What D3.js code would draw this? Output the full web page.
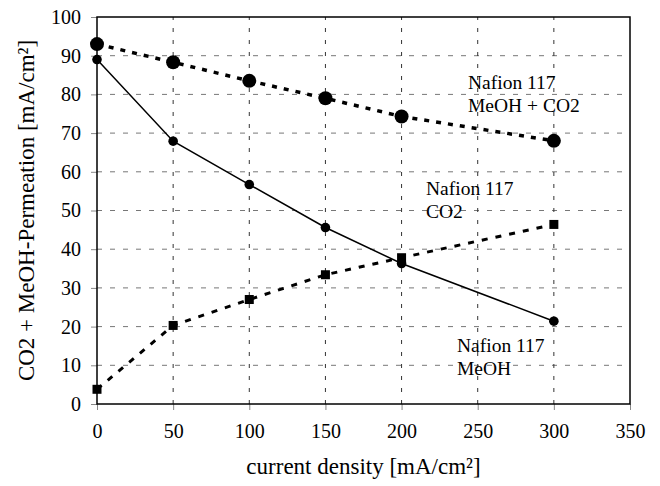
<!DOCTYPE html>
<html>
<head>
<meta charset="utf-8">
<script src="https://cdn.jsdelivr.net/npm/d3@7"></script>
<style>
  body { margin: 0; background: #fff; }
  text { font-family: "Liberation Serif", "Times New Roman", serif; fill: #000; }
</style>
</head>
<body>
<svg id="chart" width="660" height="486"></svg>
<script>
// current density values (x)
var density = [0, 50, 100, 150, 200, 300];
// series values
var meohCo2 = [93, 88.3, 83.5, 79, 74.3, 68];
var meoh = [89, 67.9, 56.7, 45.6, 36.3, 21.4];
var co2 = [3.8, 20.3, 27, 33.4, 37.8, 46.4];
// tick labels
var xTicks = [0, 50, 100, 150, 200, 250, 300, 350];
var yTicks = [0, 10, 20, 30, 40, 50, 60, 70, 80, 90, 100];

var svg = d3.select("#chart"),
  MARGINS = { top: 17, right: 30, bottom: 82, left: 97 },
  WIDTH = 660,
  HEIGHT = 486;

var xScale = d3.scaleLinear().domain([0, 350]).range([MARGINS.left, WIDTH - MARGINS.right]);
var yScale = d3.scaleLinear().domain([0, 100]).range([HEIGHT - MARGINS.bottom, MARGINS.top]);

// grid lines
svg.append("g").selectAll("line").data(yTicks.slice(1, -1)).enter().append("line")
  .attr("x1", xScale(0)).attr("x2", xScale(350))
  .attr("y1", function(d) { return yScale(d); }).attr("y2", function(d) { return yScale(d); })
  .attr("stroke", "#777").attr("stroke-width", 1).attr("stroke-dasharray", "5,8");

svg.append("g").selectAll("line").data(xTicks.slice(1, -1)).enter().append("line")
  .attr("x1", function(d) { return xScale(d); }).attr("x2", function(d) { return xScale(d); })
  .attr("y1", yScale(0)).attr("y2", yScale(100))
  .attr("stroke", "#333").attr("stroke-width", 1).attr("stroke-dasharray", "4,8");

// axes
var xAxis = d3.axisBottom(xScale).tickValues(xTicks).tickSize(6).tickPadding(14);
var yAxis = d3.axisLeft(yScale).tickValues(yTicks).tickSize(6).tickPadding(10);

var gx = svg.append("g")
  .attr("transform", "translate(0," + yScale(0) + ")")
  .call(xAxis);
var gy = svg.append("g")
  .attr("transform", "translate(" + xScale(0) + ",0)")
  .call(yAxis);

[gx, gy].forEach(function(g) {
  g.select(".domain").remove();
  g.selectAll(".tick line").attr("stroke", "#888");
  g.selectAll(".tick text").style("font-size", "20px").style("font-family", "Liberation Serif");
});

// plot frame
svg.append("rect")
  .attr("x", xScale(0)).attr("y", yScale(100))
  .attr("width", xScale(350) - xScale(0)).attr("height", yScale(0) - yScale(100))
  .attr("fill", "none").attr("stroke", "#000").attr("stroke-width", 1.5);

// lines
var lineGen = function(vals) {
  return d3.line()
    .x(function(d, i) { return xScale(density[i]); })
    .y(function(d) { return yScale(d); })(vals);
};

svg.append("path").attr("d", lineGen(meohCo2))
  .attr("fill", "none").attr("stroke", "#000").attr("stroke-width", 3.5)
  .attr("stroke-dasharray", "5,7");

svg.append("path").attr("d", lineGen(co2))
  .attr("fill", "none").attr("stroke", "#000").attr("stroke-width", 3)
  .attr("stroke-dasharray", "6,8");

svg.append("path").attr("d", lineGen(meoh))
  .attr("fill", "none").attr("stroke", "#000").attr("stroke-width", 1.5);

// markers
svg.append("g").selectAll("circle").data(meohCo2).enter().append("circle")
  .attr("cx", function(d, i) { return xScale(density[i]); })
  .attr("cy", function(d) { return yScale(d); })
  .attr("r", 7).attr("fill", "#000");

svg.append("g").selectAll("circle").data(meoh).enter().append("circle")
  .attr("cx", function(d, i) { return xScale(density[i]); })
  .attr("cy", function(d) { return yScale(d); })
  .attr("r", 4.8).attr("fill", "#000");

svg.append("g").selectAll("rect").data(co2).enter().append("rect")
  .attr("x", function(d, i) { return xScale(density[i]) - 4.5; })
  .attr("y", function(d) { return yScale(d) - 4.5; })
  .attr("width", 9).attr("height", 9).attr("fill", "#000");

// series labels
var labels = [
  { x: 468, y: 89, lines: ["Nafion 117", "MeOH + CO2"] },
  { x: 426, y: 195, lines: ["Nafion 117", "CO2"] },
  { x: 457, y: 352, lines: ["Nafion 117", "MeOH"] }
];
labels.forEach(function(l) {
  var t = svg.append("text").attr("x", l.x).attr("y", l.y).style("font-size", "19.5px");
  l.lines.forEach(function(s, i) {
    t.append("tspan").attr("x", l.x).attr("dy", i === 0 ? 0 : 23).text(s);
  });
});

// axis titles
svg.append("text")
  .attr("x", (xScale(0) + xScale(350)) / 2).attr("y", 474)
  .attr("text-anchor", "middle").style("font-size", "23px")
  .text("current density [mA/cm²]");

svg.append("text")
  .attr("transform", "translate(34," + ((yScale(0) + yScale(100)) / 2) + ") rotate(-90)")
  .attr("text-anchor", "middle").style("font-size", "23px")
  .text("CO2 + MeOH-Permeation [mA/cm²]");
</script>
</body>
</html>
